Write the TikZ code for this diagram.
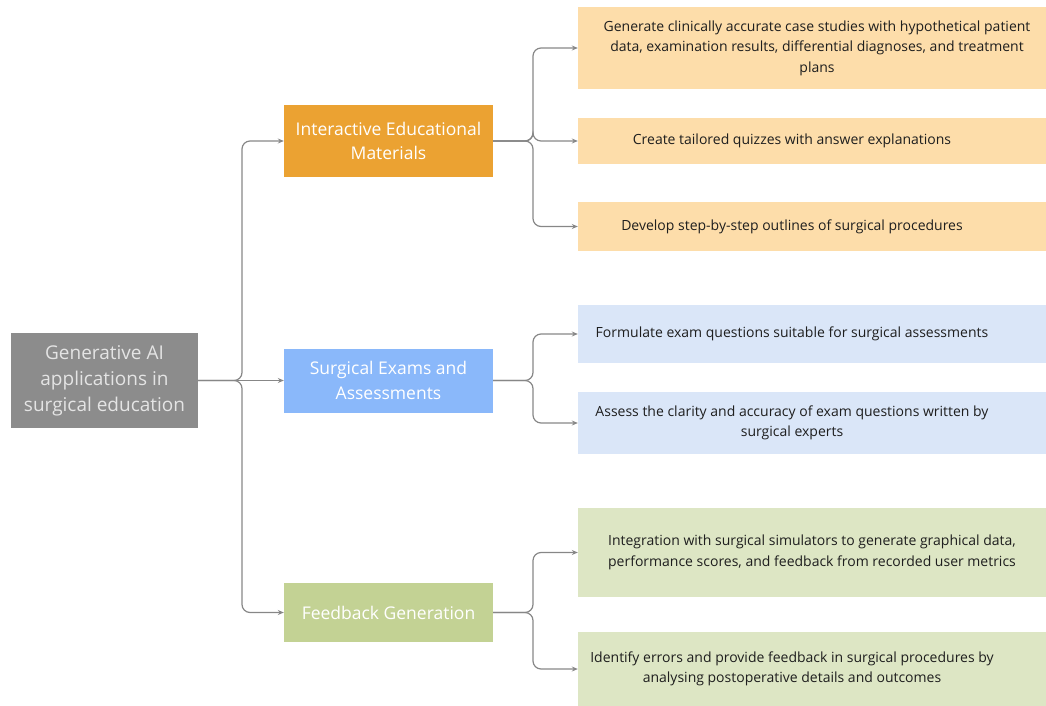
\documentclass[tikz,border=0pt]{standalone}
\usepackage{fontspec}
\setmainfont{Open Sans}
\usetikzlibrary{arrows.meta}

\begin{document}
\begin{tikzpicture}[x=1pt, y=-1pt,
		box/.style = {shape=rectangle, inner sep=2pt, align=center},
		rootbox/.style = {box, fill=rootgray, text=rootfont, minimum width=187, minimum height=95,
			font=\fontsize{19}{26}\selectfont},
		midbox/.style = {box, text=white, minimum width=209, font=\fontsize{17.5}{24.5}\selectfont},
		leafbox/.style = {box, text=leaftext, minimum width=428, font=\fontsize{14}{20.5}\selectfont},
		link/.style = {draw=linkgray, line width=1.2pt, rounded corners=8pt,
			-{Stealth[length=6pt, width=5pt]}}]
	\definecolor{rootgray}{RGB}{140,140,140}
	\definecolor{rootfont}{RGB}{228,228,228}
	\definecolor{orangemid}{RGB}{235,162,50}
	\definecolor{bluemid}{RGB}{138,184,250}
	\definecolor{greenmid}{RGB}{195,210,148}
	\definecolor{orangeleaf}{RGB}{253,221,170}
	\definecolor{blueleaf}{RGB}{218,230,248}
	\definecolor{greenleaf}{RGB}{221,230,196}
	\definecolor{linkgray}{RGB}{135,135,135}
	\definecolor{leaftext}{RGB}{30,30,30}
	\useasboundingbox (0,0) rectangle (1046,706);

	\node[rootbox] (root) at (104.5,380.5) {Generative AI \\ applications in \\ surgical education};

	\node[midbox, fill=orangemid, minimum height=72] (ime) at (388.5,141) {Interactive Educational \\ Materials};
	\node[midbox, fill=bluemid, minimum height=64] (sea) at (388.5,380.5) {Surgical Exams and \\ Assessments};
	\node[midbox, fill=greenmid, minimum height=59] (fbg) at (388.5,612.5) {Feedback Generation};

	\node[leafbox, fill=orangeleaf, minimum height=82, minimum width=478] (case) at (817,48) {Generate clinically accurate case studies with hypothetical patient \\ data, examination results, differential diagnoses, and treatment \\ plans};
	\node[leafbox, fill=orangeleaf, minimum height=46] (quiz) at (792,141) {Create tailored quizzes with answer explanations};
	\node[leafbox, fill=orangeleaf, minimum height=49] (steps) at (792,226.5) {Develop step-by-step outlines of surgical procedures};
	\node[leafbox, fill=blueleaf, minimum height=58] (exam) at (792,334) {Formulate exam questions suitable for surgical assessments};
	\node[leafbox, fill=blueleaf, minimum height=62] (clarity) at (792,423) {Assess the clarity and accuracy of exam questions written by \\ surgical experts};
	\node[leafbox, fill=greenleaf, minimum height=89, minimum width=468] (sim) at (812,552.5) {Integration with surgical simulators to generate graphical data, \\ performance scores, and feedback from recorded user metrics};
	\node[leafbox, fill=greenleaf, minimum height=74] (errors) at (792,669) {Identify errors and provide feedback in surgical procedures by \\ analysing postoperative details and outcomes};

	\coordinate (rootbus) at (242,0);
	\coordinate (midbus) at (533,0);
	\coordinate (edge) at (1050,0);

	% boxes run on past the right border
	\foreach \leaf/\col in {quiz/orangeleaf,steps/orangeleaf,exam/blueleaf,clarity/blueleaf,errors/greenleaf}
		\fill[\col] ([xshift=-1]\leaf.north east) rectangle (\leaf.south east -| edge);

	\foreach \mid in {ime,fbg}
		\draw[link] (root.east) -- (root.east -| rootbus) |- (\mid);
	\draw[link] (root.east) -- (sea.west);

	\foreach \leaf in {case,quiz,steps}
		\draw[link] (ime.east) -- (ime.east -| midbus) |- (\leaf);
	\foreach \leaf in {exam,clarity}
		\draw[link] (sea.east) -- (sea.east -| midbus) |- (\leaf);
	\foreach \leaf in {sim,errors}
		\draw[link] (fbg.east) -- (fbg.east -| midbus) |- (\leaf);
\end{tikzpicture}
\end{document}
